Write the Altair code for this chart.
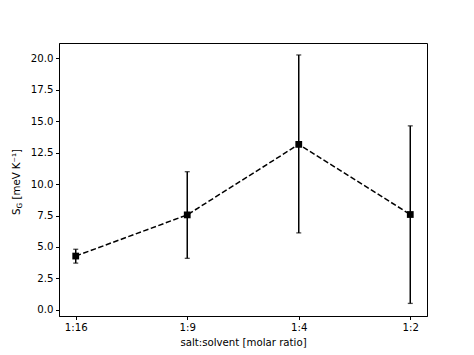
import altair as alt
import pandas as pd

labels = ["1:16", "1:9", "1:4", "1:2"]
positions = [0, 1, 2, 3]
values = [4.28, 7.55, 13.15, 7.58]
err_low = [3.72, 4.10, 6.12, 0.52]
err_high = [4.82, 10.98, 20.25, 14.62]
y_ticks = [0, 2.5, 5, 7.5, 10, 12.5, 15, 17.5, 20]

df = pd.DataFrame({"pos": positions, "label": labels, "v": values,
                   "lo": err_low, "hi": err_high})

W, H = 368, 273
FONT = "DejaVu Sans"
FS = 10.2

label_expr = "datum.value == 0 ? '1:16' : datum.value == 1 ? '1:9' : datum.value == 2 ? '1:4' : datum.value == 3 ? '1:2' : ''"

xs = alt.Scale(domain=[-0.15, 3.15], nice=False, zero=False)
ys = alt.Scale(domain=[-0.48, 21.2], nice=False, zero=False)

x_axis = alt.Axis(values=positions, labelExpr=label_expr, labelOverlap=False,
                  title="salt:solvent [molar ratio]", grid=False)
y_axis = alt.Axis(values=y_ticks, format=".1f", labelOverlap=False,
                  title=None, grid=False)


def X():
    return alt.X("pos:Q", scale=xs, axis=x_axis)


def Y(field):
    return alt.Y(field + ":Q", scale=ys, axis=y_axis)


base = alt.Chart(df)

line = base.mark_line(color="black", strokeWidth=1.5, strokeDash=[5.5, 2.5]).encode(x=X(), y=Y("v"))
err = base.mark_rule(color="black", strokeWidth=1.5).encode(x=X(), y=Y("lo"), y2="hi:Q")
cap_lo = base.mark_tick(color="black", orient="horizontal", size=5, thickness=1.3).encode(
    x=X(), y=Y("lo"))
cap_hi = base.mark_tick(color="black", orient="horizontal", size=5, thickness=1.3).encode(
    x=X(), y=Y("hi"))
pts = base.mark_square(color="black", size=46, opacity=1).encode(x=X(), y=Y("v"))

# y-axis title with subscript G: S_G [meV K⁻¹]
ty = 215 - 43
t_s = alt.Chart(pd.DataFrame({"t": ["S"]})).mark_text(
    angle=270, align="left", baseline="alphabetic", font=FONT, fontSize=FS, color="black"
).encode(text="t:N", x=alt.value(-39.5), y=alt.value(ty))
t_g = alt.Chart(pd.DataFrame({"t": ["G"]})).mark_text(
    angle=270, align="left", baseline="alphabetic", font=FONT, fontSize=7.3, color="black"
).encode(text="t:N", x=alt.value(-37.3), y=alt.value(ty - 6.6))
t_rest = alt.Chart(pd.DataFrame({"t": ["[meV K⁻¹]"]})).mark_text(
    angle=270, align="left", baseline="alphabetic", font=FONT, fontSize=FS, color="black"
).encode(text="t:N", x=alt.value(-39.5), y=alt.value(ty - 15.5))

chart = alt.layer(line, err, cap_lo, cap_hi, pts, t_s, t_g, t_rest).properties(
    width=W, height=H,
    autosize=alt.AutoSizeParams(type="none"),
    padding={"left": 59, "top": 43, "right": 47, "bottom": 39},
    background="white",
).configure_view(stroke="black", strokeWidth=1).configure_axis(
    domainColor="black", tickColor="black", labelColor="black", titleColor="black",
    labelFont=FONT, titleFont=FONT, labelFontSize=FS, titleFontSize=FS,
    titleFontWeight="normal", tickSize=3.5, labelPadding=2.5, domainWidth=1,
    tickWidth=1,
).configure_axisX(titlePadding=5)

chart.save("out.html", embed_options={"renderer": "svg", "actions": False})
